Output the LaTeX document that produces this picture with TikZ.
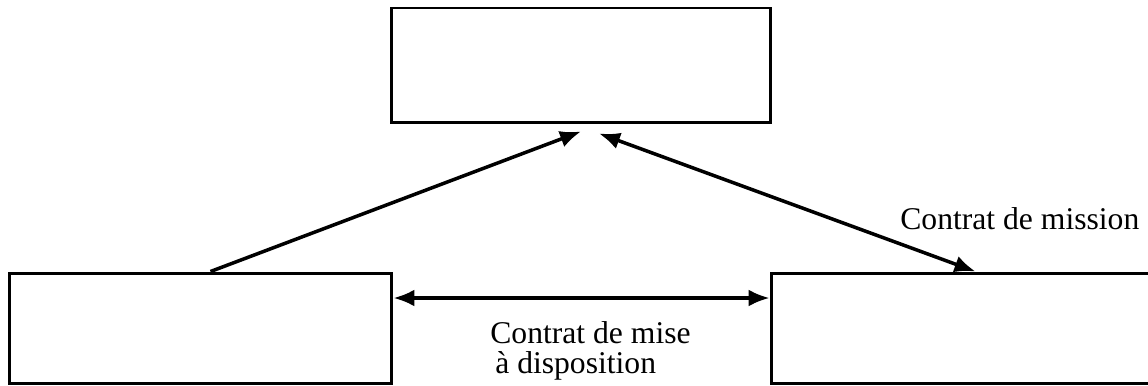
\documentclass[tikz,border=0pt]{standalone}
\usepackage{fontspec}
\setmainfont{Liberation Serif}
\usetikzlibrary{arrows.meta}

\begin{document}
\begin{tikzpicture}[x=0.02cm,y=0.02cm,>={Latex[length=4.2mm,width=3.4mm]},
		boite/.style={draw, line width=1.7pt, minimum width=7.6cm, minimum height=2.3cm, inner sep=0pt},
		fleche/.style={line width=2pt},
		etiquette/.style={font=\fontsize{18}{17}\selectfont, inner sep=0pt}]
	\clip (0,0) rectangle (1148,385);
	\node[boite] (haut) at (581,319.5) {};
	\node[boite, minimum width=7.66cm, minimum height=2.22cm] (gauche) at (200.5,56.5) {};
	\node[boite, minimum width=7.78cm, minimum height=2.22cm] (droite) at (965.5,56.5) {};
	\draw[fleche, ->] ([xshift=0.2cm]gauche.north) -- ([yshift=-0.14cm]haut.south);
	\draw[fleche, <->] ([xshift=0.36cm,yshift=-0.18cm]haut.south) -- ([xshift=4.12cm]droite.north west);
	\draw[fleche, <->] ([yshift=0.61cm]gauche.east) -- ([yshift=0.61cm]droite.west);
	\node[etiquette, anchor=base west] (mission) at (900,155) {Contrat de mission};
	\node[etiquette, align=left, anchor=north west] (mise) at (490,64) {Contrat de mise\\\kern0.1cm à disposition};
\end{tikzpicture}
\end{document}
